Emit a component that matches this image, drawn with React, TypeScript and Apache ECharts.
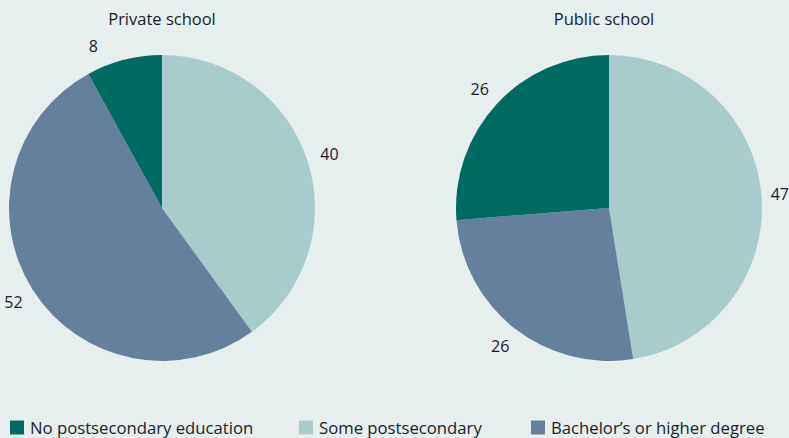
import React, { useEffect, useRef } from "react";
import * as echarts from "echarts";

const categories = ["Some postsecondary", "Bachelor’s or higher degree", "No postsecondary education"];
const privateValues = [40, 52, 8];
const publicValues = [47, 26, 26];
const schoolTitles = ["Private school", "Public school"];
const legendOrder = ["No postsecondary education", "Some postsecondary", "Bachelor’s or higher degree"];

const W = 789;
const H = 438;
const FONT = "'Open Sans', sans-serif";
const TEXT = "#1b1c2c";
const COLORS: Record<string, string> = {
  "Some postsecondary": "#a8cccb",
  "Bachelor’s or higher degree": "#64809c",
  "No postsecondary education": "#016a63",
};
const CENTERS = [[162, 208], [609, 208]];
const RADIUS = 153;
const TITLE_CLEAR_Y = 46;

export default function App() {
  const ref = useRef<HTMLDivElement>(null);
  useEffect(() => {
    if (!ref.current) return;
    const chart = echarts.init(ref.current, null, { renderer: "svg" });
    const all = [privateValues, publicValues];
    const makeLayout = (si: number) => (params: any) => {
      const vals = all[si];
      const total = vals.reduce((a, b) => a + b, 0);
      let cum = 0;
      for (let i = 0; i < params.dataIndex; i++) cum += vals[i];
      const mid = ((cum + vals[params.dataIndex] / 2) / total) * Math.PI * 2;
      const R = RADIUS + 23;
      let x = CENTERS[si][0] + R * Math.sin(mid);
      let y = CENTERS[si][1] - R * Math.cos(mid);
      const w = params.labelRect ? params.labelRect.width : 20;
      x = Math.min(x, W - w / 2);
      if (y < TITLE_CLEAR_Y) {
        // keep clear of the title: slide along the circle instead
        y = TITLE_CLEAR_Y;
        const dy = CENTERS[si][1] - y;
        const dx = Math.sqrt(Math.max(R * R - dy * dy, 0));
        x = CENTERS[si][0] + (Math.sin(mid) < 0 ? -dx : dx);
      }
      return { x, y, align: "center", verticalAlign: "middle" };
    };
    const mkSeries = (vals: number[], si: number) => ({
      type: "pie",
      center: CENTERS[si],
      radius: RADIUS,
      startAngle: 90,
      clockwise: true,
      silent: true,
      avoidLabelOverlap: false,
      data: categories.map((c, i) => ({ name: c, value: vals[i], itemStyle: { color: COLORS[c] } })),
      label: {
        show: true,
        position: "outside",
        formatter: "{c}",
        overflow: "none",
        fontFamily: FONT,
        fontSize: 16,
        color: TEXT,
      },
      labelLine: { show: false },
      labelLayout: makeLayout(si),
      itemStyle: { borderWidth: 0 },
      emphasis: { disabled: true },
    });
    const legendLefts = [10, 299, 531];
    chart.setOption({
      animation: false,
      backgroundColor: "#e6efed",
      title: schoolTitles.map((t, i) => ({
        text: t,
        left: CENTERS[i][0] - (i === 1 ? 5 : 0),
        top: 10,
        padding: 0,
        textAlign: "center",
        textStyle: { fontFamily: FONT, fontSize: 16.5, fontWeight: "normal", color: TEXT },
      })),
      legend: legendOrder.map((name, i) => ({
        data: [name],
        left: legendLefts[i],
        top: 419,
        padding: 0,
        icon: "rect",
        itemWidth: 14,
        itemHeight: 14,
        selectedMode: false,
        textStyle: { fontFamily: FONT, fontSize: 16.7, color: TEXT, padding: [0, 0, 0, 1] },
      })),
      series: [mkSeries(privateValues, 0), mkSeries(publicValues, 1)],
    });
    return () => chart.dispose();
  }, []);
  return <div ref={ref} style={{ position: "fixed", left: 0, top: 0, width: W, height: H }} />;
}
